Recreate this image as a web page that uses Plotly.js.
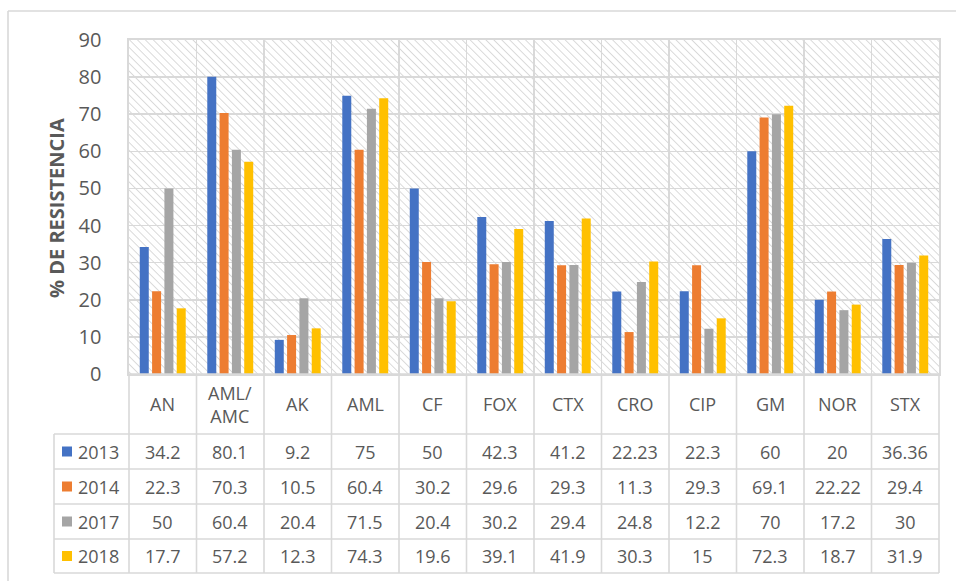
<!DOCTYPE html>
<html>
<head>
<meta charset="utf-8">
<script src="https://cdn.plot.ly/plotly-3.0.1.min.js"></script>
<style>html,body{margin:0;padding:0;background:#fff;}#chart{width:956px;height:581px;}</style>
</head>
<body>
<div id="chart"></div>
<script>
var categories = ['AN','AML/AMC','AK','AML','CF','FOX','CTX','CRO','CIP','GM','NOR','STX'];
var categoryLabels = ['AN','AML/<br>AMC','AK','AML','CF','FOX','CTX','CRO','CIP','GM','NOR','STX'];
var seriesNames = ['2013','2014','2017','2018'];
var v2013 = [34.2, 80.1, 9.2, 75, 50, 42.3, 41.2, 22.23, 22.3, 60, 20, 36.36];
var v2014 = [22.3, 70.3, 10.5, 60.4, 30.2, 29.6, 29.3, 11.3, 29.3, 69.1, 22.22, 29.4];
var v2017 = [50, 60.4, 20.4, 71.5, 20.4, 30.2, 29.4, 24.8, 12.2, 70, 17.2, 30];
var v2018 = [17.7, 57.2, 12.3, 74.3, 19.6, 39.1, 41.9, 30.3, 15, 72.3, 18.7, 31.9];
var yTickVals = [0,10,20,30,40,50,60,70,80,90];
var yTitle = '% DE RESISTENCIA';

var seriesValues = [v2013, v2014, v2017, v2018];
var colors = ['#4472C4', '#ED7D31', '#A5A5A5', '#FFC000'];
var textColor = '#595959';
var gridColor = '#d9d9d9';
var FONT = 'Open Sans, Segoe UI, sans-serif';

// layout geometry (pixels)
var W = 956, H = 581, L = 129, R = 939, T = 40, B = 374;
function px(x) { return (x - L) / (R - L); }
function py(y) { return (B - y) / (B - T); }

var traces = seriesValues.map(function (vals, i) {
  return {
    type: 'bar', name: seriesNames[i], x: categories, y: vals,
    marker: {color: colors[i]}, hoverinfo: 'x+y+name'
  };
});

// hatch background
var svg = "<svg xmlns='http://www.w3.org/2000/svg' width='810' height='334' viewBox='0 0 810 334' preserveAspectRatio='none'>" +
  "<defs><pattern id='p' width='5.6' height='5.6' patternUnits='userSpaceOnUse' patternTransform='rotate(-45)'>" +
  "<line x1='0' y1='0' x2='0' y2='5.6' stroke='#d2d2d2' stroke-width='1.6'/></pattern></defs>" +
  "<rect width='810' height='334' fill='url(#p)'/></svg>";
var hatchSrc = 'data:image/svg+xml;charset=utf-8,' + encodeURIComponent(svg);

var shapes = [];
var annotations = [];
function hline(y, x0, x1) {
  shapes.push({type: 'line', xref: 'paper', yref: 'paper', x0: px(x0), x1: px(x1), y0: py(y), y1: py(y),
    line: {color: gridColor, width: 1.6}});
}
function vline(x, y0, y1) {
  shapes.push({type: 'line', xref: 'paper', yref: 'paper', x0: px(x), x1: px(x), y0: py(y0), y1: py(y1),
    line: {color: gridColor, width: 1.6}});
}

// outer chart border (top and left visible)
hline(11, 8, 960);
vline(8, 11, 590);

// table grid
var rowLines = [434, 469, 504, 539, 573];
hline(374, L, R);
rowLines.forEach(function (y) { hline(y, 54, R); });
vline(54, 434, 573);
var n = categories.length;
for (var i = 0; i <= n; i++) {
  var xb = L + (R - L) * i / n;
  vline(xb, 374, 573);
}

// category row
categories.forEach(function (c, i) {
  annotations.push({xref: 'x', yref: 'paper', x: c, y: py(404), text: categoryLabels[i],
    showarrow: false, xanchor: 'center', yanchor: 'middle',
    font: {family: FONT, size: 18, color: textColor}});
});

// data rows
var rowCenters = [451.5, 486.5, 521.5, 556];
seriesValues.forEach(function (vals, s) {
  var yc = rowCenters[s];
  // legend key
  shapes.push({type: 'rect', xref: 'paper', yref: 'paper', x0: px(62), x1: px(72), y0: py(yc + 5), y1: py(yc - 5),
    fillcolor: colors[s], line: {width: 0}});
  annotations.push({xref: 'paper', yref: 'paper', x: px(76), y: py(yc), text: seriesNames[s],
    showarrow: false, xanchor: 'left', yanchor: 'middle',
    font: {family: FONT, size: 18, color: textColor}});
  vals.forEach(function (v, i) {
    annotations.push({xref: 'x', yref: 'paper', x: categories[i], y: py(yc), text: String(v),
      showarrow: false, xanchor: 'center', yanchor: 'middle',
      font: {family: FONT, size: 18, color: textColor}});
  });
});

// y axis title
annotations.push({xref: 'paper', yref: 'paper', x: px(56), y: py(208), text: '<b>' + yTitle + '</b>',
  textangle: -90, showarrow: false, xanchor: 'center', yanchor: 'middle',
  font: {family: FONT, size: 20, color: textColor}});

var layout = {
  width: W, height: H,
  margin: {l: L, r: W - R, t: T, b: H - B, pad: 0},
  paper_bgcolor: '#ffffff',
  plot_bgcolor: 'rgba(0,0,0,0)',
  showlegend: false,
  barmode: 'group', bargap: 0.27, bargroupgap: 0.27,
  font: {family: FONT, color: textColor},
  xaxis: {
    type: 'category', categoryorder: 'array', categoryarray: categories,
    showticklabels: false, ticks: '', tickson: 'boundaries',
    showgrid: true, gridcolor: gridColor, gridwidth: 1.6,
    showline: true, mirror: true, linecolor: gridColor, linewidth: 1.6,
    zeroline: false, fixedrange: true
  },
  yaxis: {
    range: [0, 90], tickvals: yTickVals, ticktext: yTickVals.map(String),
    showgrid: true, gridcolor: gridColor, gridwidth: 1.6,
    showline: true, mirror: true, linecolor: gridColor, linewidth: 1.6,
    zeroline: false, ticks: '', ticklabelstandoff: 22,
    tickfont: {family: FONT, size: 20, color: textColor}, fixedrange: true
  },
  images: [{source: hatchSrc, xref: 'paper', yref: 'paper', x: 0, y: 1, sizex: 1, sizey: 1,
    sizing: 'stretch', xanchor: 'left', yanchor: 'top', layer: 'below'}],
  shapes: shapes,
  annotations: annotations
};

Plotly.newPlot('chart', traces, layout, {displayModeBar: false, staticPlot: true});
</script>
</body>
</html>
